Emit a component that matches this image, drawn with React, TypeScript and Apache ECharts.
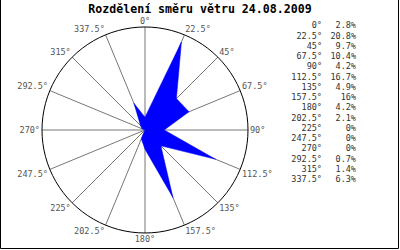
import React, { useEffect, useRef } from "react";
import * as echarts from "echarts";

const title = "Rozdělení směru větru 24.08.2009";
const directions = [0, 22.5, 45, 67.5, 90, 112.5, 135, 157.5, 180, 202.5, 225, 247.5, 270, 292.5, 315, 337.5];
const percents = [2.8, 20.8, 9.7, 10.4, 4.2, 16.7, 4.9, 16, 4.2, 2.1, 0, 0, 0, 0.7, 1.4, 6.3];
const radiusMax = 22.5;

const MONO = "'DejaVu Sans Mono', 'Liberation Mono', monospace";

export default function App() {
  const ref = useRef<HTMLDivElement>(null);
  useEffect(() => {
    if (!ref.current) return;
    const chart = echarts.init(ref.current, undefined, { renderer: "svg" });
    const data: number[][] = directions.map((d, i) => [percents[i], d]);
    data.push([percents[0], 360]);

    const legendTexts: any[] = [];
    directions.forEach((d, i) => {
      const y = 25.3 + 10.25 * i;
      legendTexts.push({
        type: "text",
        x: 322,
        y,
        style: {
          text: `${d}°`,
          font: `8.5px ${MONO}`,
          fill: "#333",
          align: "right",
          verticalAlign: "middle",
        },
      });
      legendTexts.push({
        type: "text",
        x: 356,
        y,
        style: {
          text: `${percents[i]}%`,
          font: `8.5px ${MONO}`,
          fill: "#333",
          align: "right",
          verticalAlign: "middle",
        },
      });
    });

    chart.setOption({
      animation: false,
      backgroundColor: "#fff",
      polar: { center: [145, 130], radius: 103 },
      angleAxis: {
        type: "value",
        min: 0,
        max: 360,
        interval: 22.5,
        startAngle: 90,
        clockwise: true,
        axisLine: { show: true, lineStyle: { color: "#000", width: 1 } },
        axisTick: { show: false },
        splitLine: { show: true, lineStyle: { color: "#777", width: 1 } },
        axisLabel: {
          margin: 2,
          color: "#555",
          fontFamily: MONO,
          fontSize: 8.5,
          lineHeight: 8,
          formatter: (v: number) => (v === 360 ? "" : `${v}°`),
        },
      },
      radiusAxis: {
        type: "value",
        min: 0,
        max: radiusMax,
        axisLine: { show: false },
        axisTick: { show: false },
        axisLabel: { show: false },
        splitLine: { show: false },
      },
      series: [
        {
          type: "line",
          coordinateSystem: "polar",
          data,
          symbol: "none",
          lineStyle: { color: "#0000ff", width: 0.5 },
          areaStyle: { color: "#0000ff", opacity: 1 },
          z: 3,
        },
      ],
      graphic: [
        {
          type: "polyline",
          shape: { points: [[0.5, 0], [0.5, 248.5], [398.5, 248.5], [398.5, 0]] },
          style: { stroke: "#000", fill: "none", lineWidth: 1 },
        },
        {
          type: "text",
          x: 200,
          y: 8.5,
          style: {
            text: title,
            font: `bold 11.6px ${MONO}`,
            fill: "#000",
            align: "center",
            verticalAlign: "middle",
          },
        },
        ...legendTexts,
      ],
    });
    return () => chart.dispose();
  }, []);
  return (
    <div
      ref={ref}
      style={{ position: "fixed", left: 0, top: 0, width: 400, height: 250 }}
    />
  );
}
